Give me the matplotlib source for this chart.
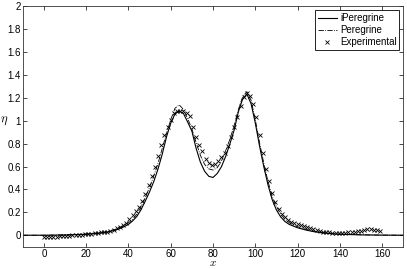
import matplotlib
matplotlib.use('Agg')
import matplotlib.pyplot as plt
import numpy as np

# model curves
x_model = [-10, 0, 10, 20, 26, 30, 34, 38, 40, 42, 44, 46, 48, 50, 52, 54, 56, 58,
           60, 62, 64, 66, 68, 70, 72, 74, 76, 78, 80, 82, 84, 86, 88, 90, 92, 94,
           96, 98, 100, 102, 104, 106, 108, 110, 112, 114, 116, 118, 120, 124, 128,
           132, 136, 140, 150, 160, 170]
ipere = [0.0, 0.0, 0.002, 0.008, 0.017, 0.027, 0.045, 0.075, 0.095, 0.125, 0.165,
         0.225, 0.30, 0.38, 0.47, 0.58, 0.71, 0.86, 0.98, 1.06, 1.085, 1.065, 0.99,
         0.91, 0.76, 0.64, 0.56, 0.515, 0.505, 0.54, 0.60, 0.69, 0.80, 0.92, 1.08,
         1.19, 1.235, 1.15, 0.98, 0.78, 0.60, 0.44, 0.31, 0.22, 0.16, 0.12, 0.095,
         0.08, 0.065, 0.045, 0.03, 0.02, 0.013, 0.008, 0.003, 0.001, 0.0]
pere = [0.0, 0.0, 0.003, 0.01, 0.02, 0.032, 0.052, 0.085, 0.108, 0.14, 0.185, 0.25,
        0.33, 0.42, 0.52, 0.63, 0.76, 0.89, 1.01, 1.11, 1.14, 1.10, 1.02, 0.93, 0.81,
        0.70, 0.62, 0.58, 0.57, 0.59, 0.65, 0.74, 0.84, 0.96, 1.10, 1.21, 1.255, 1.18,
        1.01, 0.81, 0.63, 0.47, 0.34, 0.25, 0.185, 0.14, 0.11, 0.09, 0.075, 0.052,
        0.035, 0.024, 0.016, 0.01, 0.004, 0.001, 0.0]

# experimental gauge
x_exp = np.arange(0, 160, 1.5)
eta_exp = [-0.017, -0.017, -0.016, -0.015, -0.013, -0.01, -0.008, -0.006, -0.004, -0.002, 0.0,
           0.003, 0.006, 0.009, 0.012, 0.015, 0.018, 0.021, 0.024, 0.027, 0.032,
           0.04, 0.05, 0.06, 0.073, 0.09, 0.11, 0.14, 0.175, 0.21, 0.25,
           0.30, 0.36, 0.44, 0.52, 0.60, 0.69, 0.79, 0.88, 0.95, 1.01,
           1.07, 1.085, 1.09, 1.085, 1.07, 1.04, 0.95, 0.86, 0.79, 0.74,
           0.67, 0.63, 0.615, 0.625, 0.65, 0.685, 0.72, 0.78, 0.86, 0.95,
           1.03, 1.13, 1.21, 1.24, 1.215, 1.15, 1.03, 0.88, 0.72, 0.58,
           0.47, 0.37, 0.29, 0.23, 0.19, 0.16, 0.135, 0.12, 0.11, 0.10,
           0.09, 0.08, 0.07, 0.062, 0.052, 0.045, 0.038, 0.032, 0.028, 0.025,
           0.022, 0.02, 0.019, 0.02, 0.022, 0.025, 0.028, 0.031, 0.034, 0.038,
           0.045, 0.052, 0.055, 0.05, 0.042, 0.035]

plt.rcParams['font.family'] = ['Liberation Sans', 'DejaVu Sans']
plt.rcParams['mathtext.fontset'] = 'cm'

fig = plt.figure(figsize=(4.07, 2.69), dpi=100)
ax = fig.add_axes([0.0558, 0.083, 0.9352, 0.893])

ax.plot(x_model, ipere, '-', color='k', lw=0.8, label='iPeregrine')
ax.plot(x_model, pere, '-.', color='k', lw=0.6, label='Peregrine')
ax.plot(x_exp, eta_exp, 'x', color='k', ms=2.5, mew=0.6, label='Experimental')

ax.set_xlim(-10, 170)
ax.set_ylim(-0.1, 2)
ax.set_xticks(np.arange(0, 161, 20))
yt = np.arange(0, 2.01, 0.2)
ax.set_yticks(yt)
ax.set_yticklabels(['%g' % round(v, 1) for v in yt])
ax.tick_params(direction='in', length=3, width=0.5, labelsize=7, top=True, right=True, pad=1.5)
for s in ax.spines.values():
    s.set_linewidth(0.6)
    s.set_color('#333333')

ax.set_xlabel('$x$', fontsize=8, va='top')
ax.xaxis.set_label_coords(0.5, -0.048)
ax.set_ylabel('$\\eta$', fontsize=9, rotation=0, va='center', ha='center')
ax.yaxis.set_label_coords(-0.049, 0.524)

leg = ax.legend(loc='upper right', fontsize=7, frameon=True, fancybox=False,
                edgecolor='k', framealpha=1, borderpad=0.3, labelspacing=0.2,
                handlelength=2.0, handletextpad=0.3, borderaxespad=0.4)
leg.get_frame().set_linewidth(0.6)

fig.savefig('out.png', dpi=100)
